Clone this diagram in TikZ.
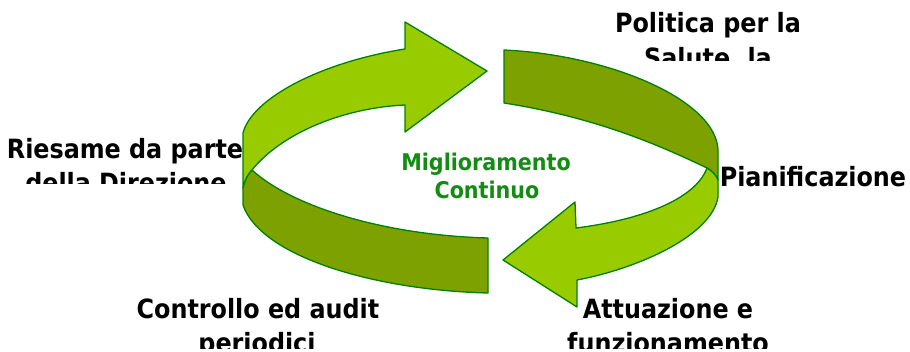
\documentclass[tikz,border=0pt]{standalone}
\usepackage{fontspec}
\setmainfont{DejaVu Sans Condensed}
\definecolor{lightg}{RGB}{153,204,0}
\definecolor{darkg}{RGB}{125,162,0}
\definecolor{edgeg}{RGB}{0,128,0}
\definecolor{txtg}{RGB}{20,140,20}
\begin{document}
\begin{tikzpicture}[x=1pt,y=-1pt,
  band/.style={draw=edgeg,line width=1.3pt,line join=round},
  lbl/.style={font=\fontsize{26.5}{30}\selectfont\bfseries,text=black,anchor=base,inner sep=0pt},
  glbl/.style={font=\fontsize{23}{27}\selectfont\bfseries,text=txtg,anchor=base,inner sep=0pt}]
\useasboundingbox (0,0) rectangle (910,352);
\clip (0,0) rectangle (910,352);
% upper-left light arrow
\path[band,fill=lightg] (405,49) .. controls (322,62) and (252,98) .. (243,133) -- (243,188)
  .. controls (245,180) and (248,174) .. (252,170)
  .. controls (280,135) and (340,108) .. (405,105) -- (405,132) -- (487,71) -- (405,22) -- cycle;
% lower-left dark band
\path[band,fill=darkg] (252,170) .. controls (290,205) and (380,235) .. (488,238) -- (488,293)
  .. controls (370,290) and (260,255) .. (243,205) -- (243,188)
  .. controls (245,180) and (248,174) .. (252,170) -- cycle;
% upper-right dark band
\path[band,fill=darkg] (504,50) .. controls (610,55) and (716,100) .. (718,150) -- (718,180)
  .. controls (716,175) and (712,171) .. (707,168)
  .. controls (665,148) and (600,118) .. (504,103) -- cycle;
% lower-right light arrow
\path[band,fill=lightg] (707,168) .. controls (712,171) and (716,175) .. (718,180) -- (718,197)
  .. controls (712,235) and (640,268) .. (577,280) -- (577,307) -- (503,260) -- (575,202) -- (576,228)
  .. controls (640,220) and (695,200) .. (707,168) -- cycle;
% centre text
\node[glbl] (m1) at (486,171) {Miglioramento};
\node[glbl] (m2) at (487,199) {Continuo};
% labels
\begin{scope}
\clip (560,0) rectangle (860,61);
\node[lbl] (p1) at (708,33) {Politica per la};
\node[lbl] (p2) at (708,68) {Salute, la};
\end{scope}
\begin{scope}
\clip (0,120) rectangle (241,184);
\node[lbl] (r1) at (125,159) {Riesame da parte};
\node[lbl] (r2) at (126,193) {della Direzione};
\end{scope}
\node[lbl] (pi) at (813,187) {Pianificazione};
\begin{scope}
\clip (100,280) rectangle (420,349);
\node[lbl] (c1) at (258,319) {Controllo ed audit};
\node[lbl] (c2) at (257,353) {periodici};
\end{scope}
\begin{scope}
\clip (540,280) rectangle (800,349);
\node[lbl] (a1) at (668,319) {Attuazione e};
\node[lbl] (a2) at (668,353) {funzionamento};
\end{scope}
\end{tikzpicture}
\end{document}
